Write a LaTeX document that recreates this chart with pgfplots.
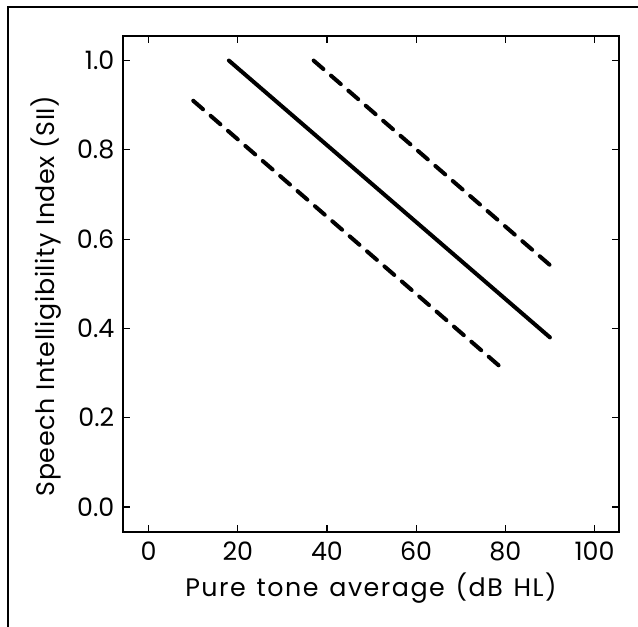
\documentclass[border=0pt]{standalone}
\usepackage{fontspec}
\setmainfont{Poppins}
\newfontfamily\xlabfont{Poppins}[LetterSpace=6, WordSpace=1.3]
\newfontfamily\ylabfont{Poppins}[LetterSpace=2.5]
\usepackage{pgfplots}
\pgfplotsset{compat=1.18}

\begin{document}
\begin{tikzpicture}
  % page = 638 x 626 px, 1 px = 0.75 pt
  \path[use as bounding box] (0,0) rectangle (478.5pt,-469.5pt);
  \draw[line width=1.5pt] (6pt,-480pt) -- (6pt,-5.6pt) -- (490pt,-5.6pt);

  \begin{axis}[
      at={(92.25pt,-27pt)}, anchor=north west,
      scale only axis, width=372pt, height=372pt,
      xmin=-5.75, xmax=105.5,
      ymin=-0.056, ymax=1.055,
      xtick={0,20,...,100},
      ytick={0,0.2,...,1.0},
      tick align=inside,
      major tick length=5pt,
      axis line style={line width=0.9pt},
      every tick/.style={line width=0.9pt, black},
      /pgf/number format/assume math mode=true,
      yticklabel style={/pgf/number format/fixed,
        /pgf/number format/fixed zerofill,
        /pgf/number format/precision=1, xshift=-3pt},
      ticklabel style={font=\fontsize{19}{22}\selectfont},
      xticklabel style={yshift=-4pt},
      xlabel={\xlabfont Pure tone average (dB HL)},
      ylabel={\ylabfont Speech Intelligibility Index (SII)},
      label style={font=\fontsize{19}{22}\selectfont},
      xlabel style={yshift=-2pt},
      ylabel style={yshift=5pt, xshift=-9pt},
      clip=false,
    ]
    % regression line
    \addplot[black, line width=3pt, line cap=round] coordinates {
      (18,1.0) (90,0.38)
    };
    % lower bound
    \addplot[black, line width=3pt, line cap=round, dash pattern=on 9.75pt off 7.5pt] coordinates {
      (10,0.91) (79,0.313)
    };
    % upper bound
    \addplot[black, line width=3pt, line cap=round, dash pattern=on 9.75pt off 7.5pt] coordinates {
      (37,1.0) (90,0.542)
    };
  \end{axis}
\end{tikzpicture}
\end{document}
